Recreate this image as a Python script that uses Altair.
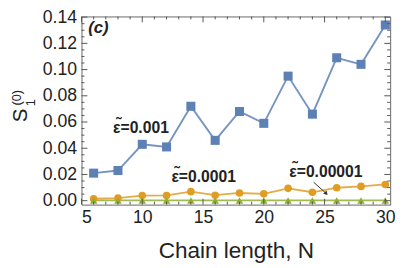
import altair as alt
import pandas as pd

N = [6, 8, 10, 12, 14, 16, 18, 20, 22, 24, 26, 28, 30]
s_001 = [0.021, 0.023, 0.043, 0.041, 0.072, 0.046, 0.068, 0.059, 0.095, 0.066, 0.109, 0.104, 0.134]
s_0001 = [0.0015, 0.002, 0.0039, 0.004, 0.0069, 0.0042, 0.0059, 0.0052, 0.0094, 0.0064, 0.0099, 0.0109, 0.0124]
s_00001 = [0.0002, 0.0002, 0.0002, 0.0002, 0.0002, 0.0002, 0.0002, 0.0002, 0.0002, 0.0002, 0.0002, 0.0002, 0.0002]

series_names = ["0.001", "0.0001", "0.00001"]
colors = ["#5E81B5", "#E19C24", "#8FB032"]

x_major = [5, 10, 15, 20, 25, 30]
x_minor = [6, 7, 8, 9, 11, 12, 13, 14, 16, 17, 18, 19, 21, 22, 23, 24, 26, 27, 28, 29]
y_major = [0.0, 0.02, 0.04, 0.06, 0.08, 0.10, 0.12, 0.14]
y_minor = [0.005, 0.01, 0.015, 0.025, 0.03, 0.035, 0.045, 0.05, 0.055, 0.065, 0.07, 0.075,
           0.085, 0.09, 0.095, 0.105, 0.11, 0.115, 0.125, 0.13, 0.135]

labels_text = ["ε=0.001", "ε=0.0001", "ε=0.00001"]
labels_x = [7.6, 12.4, 22.1]
labels_y = [0.0555, 0.0178, 0.0215]

W, H = 315, 192
FONT = "Liberation Sans"

rows = []
for name, vals in zip(series_names, [s_001, s_0001, s_00001]):
    for n, v in zip(N, vals):
        rows.append({"N": n, "S": v, "eps": name})
df = pd.DataFrame(rows)

xs = alt.Scale(domain=[5, 30.4], nice=False, zero=False)
ys = alt.Scale(domain=[-0.003, 0.1405], nice=False, zero=False)
cs = alt.Scale(domain=series_names, range=colors)

xaxis = alt.Axis(values=x_major, ticks=False, domain=False, grid=False, labelFontSize=18,
                 labelFont=FONT, labelColor="#222", labelPadding=4, labelOverlap=False,
                 title="Chain length, N",
                 titleFont=FONT, titleFontSize=23, titleFontWeight="normal", titleColor="#222",
                 titlePadding=14, format="d")
yaxis = alt.Axis(values=y_major, ticks=False, domain=False, grid=False, labelFontSize=18,
                 labelFont=FONT, labelColor="#222", labelPadding=5, labelOverlap=False,
                 labelBound=False, format=".2f", title=None)

X = lambda f: alt.X(f, scale=xs, axis=xaxis)
Y = lambda f: alt.Y(f, scale=ys, axis=yaxis)

base = alt.Chart(df)
lines = base.mark_line(strokeWidth=1.9, opacity=0.85).encode(
    x=X("N:Q"), y=Y("S:Q"),
    color=alt.Color("eps:N", scale=cs, legend=None),
    detail="eps:N",
)
pts_sq = alt.Chart(df[df.eps == "0.001"]).mark_point(filled=True, opacity=1, shape="square", size=85).encode(
    x=X("N:Q"), y=Y("S:Q"), color=alt.Color("eps:N", scale=cs, legend=None))
pts_c = alt.Chart(df[df.eps == "0.0001"]).mark_point(filled=True, opacity=1, shape="circle", size=60).encode(
    x=X("N:Q"), y=Y("S:Q"), color=alt.Color("eps:N", scale=cs, legend=None))
pts_t = alt.Chart(df[df.eps == "0.00001"]).mark_point(filled=True, opacity=1, shape="triangle-up", size=58).encode(
    x=X("N:Q"), y=Y("S:Q"), color=alt.Color("eps:N", scale=cs, legend=None))

TC = "#555"
def xticks(vals, ln):
    d = pd.DataFrame({"v": vals})
    b = alt.Chart(d).mark_rule(color=TC, strokeWidth=1)
    return [
        b.encode(x=X("v:Q"), y=alt.value(H), y2=alt.value(H - ln)),
        b.encode(x=X("v:Q"), y=alt.value(0), y2=alt.value(ln)),
    ]
def yticks(vals, ln):
    d = pd.DataFrame({"v": vals})
    b = alt.Chart(d).mark_rule(color=TC, strokeWidth=1)
    return [
        b.encode(y=Y("v:Q"), x=alt.value(0), x2=alt.value(ln)),
        b.encode(y=Y("v:Q"), x=alt.value(W), x2=alt.value(W - ln)),
    ]

ticks = xticks(x_major, 6) + xticks(x_minor, 3) + yticks(y_major, 6) + yticks(y_minor, 3)

lab_df = pd.DataFrame({"x": labels_x, "y": labels_y, "t": labels_text})
labels = alt.Chart(lab_df).mark_text(align="left", baseline="middle", fontSize=16,
                                     fontWeight="bold", font=FONT, color="#222").encode(
    x=X("x:Q"), y=Y("y:Q"), text="t:N")
tildes = alt.Chart(lab_df).mark_text(text="˜", align="left", baseline="middle", fontSize=16,
                                     fontWeight="bold", font=FONT, color="#222", dx=3, dy=-4).encode(
    x=X("x:Q"), y=Y("y:Q"))

arrow_df = pd.DataFrame({"x": [24.1], "y": [0.0141], "x2": [25.1], "y2": [0.0058]})
arrow = alt.Chart(arrow_df).mark_rule(color="#333", strokeWidth=1).encode(
    x=X("x:Q"), y=Y("y:Q"), x2="x2:Q", y2="y2:Q")
head_df = pd.DataFrame({"x": [25.1], "y": [0.0058]})
head = alt.Chart(head_df).mark_point(shape="triangle", filled=True, color="#333", size=22,
                                     angle=137, opacity=1).encode(
    x=X("x:Q"), y=Y("y:Q"))

panel_df = pd.DataFrame({"x": [5.55], "y": [0.1317], "t": ["(c)"]})
panel = alt.Chart(panel_df).mark_text(align="left", baseline="middle", fontSize=17,
                                      fontWeight="bold", fontStyle="italic", font=FONT,
                                      color="#222").encode(
    x=X("x:Q"), y=Y("y:Q"), text="t:N")

one = pd.DataFrame({"a": [0]})
ytitle_S = alt.Chart(one).mark_text(text="S", angle=270, fontSize=21, font=FONT, color="#222",
                                    align="center", baseline="middle").encode(
    x=alt.value(-62), y=alt.value(101))
ytitle_1 = alt.Chart(one).mark_text(text="1", angle=270, fontSize=13, font=FONT, color="#222",
                                    align="center", baseline="middle").encode(
    x=alt.value(-51), y=alt.value(88))
ytitle_0 = alt.Chart(one).mark_text(text="(0)", angle=270, fontSize=13, font=FONT, color="#222",
                                    align="center", baseline="middle").encode(
    x=alt.value(-66), y=alt.value(83))

chart = alt.layer(lines, pts_sq, pts_c, pts_t, *ticks, labels, tildes, arrow, head, panel,
                  ytitle_S, ytitle_1, ytitle_0).properties(
    width=W, height=H,
    autosize=alt.AutoSizeParams(type="none"),
    padding={"left": 75, "top": 6, "right": 9, "bottom": 60},
    background="white",
).configure_view(stroke="#666", strokeWidth=1).configure_axis(labelOverlap=False)

chart.save("out.html", embed_options={"renderer": "svg", "actions": False})
